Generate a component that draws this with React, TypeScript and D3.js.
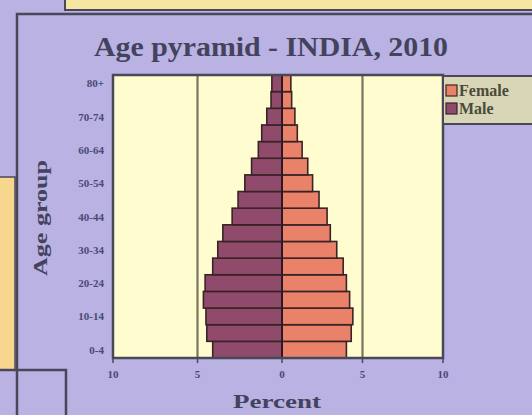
import React from 'react';
import * as d3 from 'd3';

// Age groups, bottom to top
const ageGroups = [
  '0-4', '5-9', '10-14', '15-19', '20-24', '25-29', '30-34', '35-39', '40-44',
  '45-49', '50-54', '55-59', '60-64', '65-69', '70-74', '75-79', '80+',
];
// Percent of total population
const maleValues = [4.1, 4.45, 4.5, 4.65, 4.55, 4.1, 3.8, 3.5, 2.95, 2.6, 2.2, 1.8, 1.4, 1.2, 0.9, 0.65, 0.6];
const femaleValues = [4.0, 4.3, 4.4, 4.2, 4.0, 3.8, 3.4, 3.0, 2.8, 2.3, 1.9, 1.6, 1.25, 0.95, 0.8, 0.6, 0.55];
const yTickLabels = ['0-4', '10-14', '20-24', '30-34', '40-44', '50-54', '60-64', '70-74', '80+'];
const xTicks = [-10, -5, 0, 5, 10];
const legendItems = ['Female', 'Male'];

const W = 532;
const H = 415;
const plot = { left: 113, right: 443, top: 75, bottom: 358 };

const colors = {
  bg: '#b9b2e2',
  plotBg: '#fffdcf',
  topStrip: '#f6e6a2',
  sideStrip: '#f7d78e',
  frame: '#4a4858',
  grid: '#77765e',
  male: '#8f4a6c',
  female: '#ea8269',
  barStroke: '#3a2328',
  text: '#4a4a72',
  title: '#43435e',
  legendBg: '#d8d6b6',
};

const serif = '"Liberation Serif", "DejaVu Serif", serif';

const App: React.FC = () => {
  // center of the photo sits slightly right of the mid point
  const x = d3.scaleLinear().domain([-10, 0, 10]).range([plot.left, 282, plot.right]);
  const y = d3.scaleBand<string>()
    .domain([...ageGroups].reverse())
    .range([plot.top, plot.bottom])
    .padding(0);

  const legendColor = (k: string) => (k === 'Female' ? colors.female : colors.male);

  return (
    <div style={{ position: 'fixed', left: 0, top: 0 }}>
      <svg width={W} height={H} style={{ display: 'block' }}>
        <rect x={0} y={0} width={W} height={H} fill={colors.bg} />

        {/* surrounding slide decorations */}
        <rect x={65} y={-2} width={W} height={12} fill={colors.topStrip} stroke={colors.frame} strokeWidth={2} />
        <rect x={-2} y={177} width={17} height={193} fill={colors.sideStrip} stroke={colors.frame} strokeWidth={1.5} />
        <path d={`M17,${H} V14 H${W}`} fill="none" stroke={colors.frame} strokeWidth={2.5} />
        <path d={`M0,370 H66 V${H}`} fill="none" stroke={colors.frame} strokeWidth={2.5} />

        {/* title */}
        <text x={271} y={56} textAnchor="middle" fontFamily={serif} fontWeight="bold"
          fontSize={27} fill={colors.title} textLength={354} lengthAdjust="spacingAndGlyphs">
          Age pyramid - INDIA, 2010
        </text>

        {/* plot area */}
        <rect x={plot.left} y={plot.top} width={plot.right - plot.left} height={plot.bottom - plot.top}
          fill={colors.plotBg} />
        {[-5, 5].map(t => (
          <line key={t} x1={x(t)} x2={x(t)} y1={plot.top} y2={plot.bottom}
            stroke={colors.grid} strokeWidth={2.2} />
        ))}

        {/* bars */}
        <g stroke={colors.barStroke} strokeWidth={1.6}>
          {ageGroups.map((g, i) => (
            <rect key={'m' + g} x={x(-maleValues[i])} y={y(g)} width={x(0) - x(-maleValues[i])}
              height={y.bandwidth()} fill={colors.male} />
          ))}
          {ageGroups.map((g, i) => (
            <rect key={'f' + g} x={x(0)} y={y(g)} width={x(femaleValues[i]) - x(0)}
              height={y.bandwidth()} fill={colors.female} />
          ))}
        </g>
        <line x1={x(0)} x2={x(0)} y1={plot.top} y2={plot.bottom} stroke="#2a1a22" strokeWidth={2} />

        <rect x={plot.left} y={plot.top} width={plot.right - plot.left} height={plot.bottom - plot.top}
          fill="none" stroke={colors.frame} strokeWidth={2.5} />

        {/* x axis */}
        {xTicks.map(t => (
          <g key={t} transform={`translate(${x(t)},${plot.bottom})`}>
            <line y1={0} y2={5} stroke={colors.frame} strokeWidth={1.5} />
            <text y={20} textAnchor="middle" fontFamily={serif} fontWeight="bold" fontSize={11}
              fill={colors.text}>
              {Math.abs(t)}
            </text>
          </g>
        ))}
        <text x={277} y={408} textAnchor="middle" fontFamily={serif} fontWeight="bold" fontSize={19}
          fill={colors.title} textLength={88} lengthAdjust="spacingAndGlyphs">
          Percent
        </text>

        {/* y axis */}
        {yTickLabels.map(l => (
          <text key={l} x={104} y={(y(l) ?? 0) + y.bandwidth() / 2 + 4} textAnchor="end"
            fontFamily={serif} fontWeight="bold" fontSize={11} fill={colors.text}>
            {l}
          </text>
        ))}
        <text transform="translate(47,218) rotate(-90)" textAnchor="middle" fontFamily={serif}
          fontWeight="bold" fontSize={19} fill={colors.title} textLength={116} lengthAdjust="spacingAndGlyphs">
          Age group
        </text>

        {/* legend */}
        <rect x={plot.right} y={76} width={100} height={48} fill={colors.legendBg}
          stroke={colors.frame} strokeWidth={2} />
        {legendItems.map((k, i) => (
          <g key={k} transform={`translate(446,${85 + i * 18})`}>
            <rect width={11} height={11} fill={legendColor(k)} stroke={colors.barStroke} strokeWidth={1.2} />
            <text x={13} y={11} fontFamily={serif} fontWeight="bold" fontSize={16} fill="#4a4a3c">
              {k}
            </text>
          </g>
        ))}
      </svg>
    </div>
  );
};

export default App;
